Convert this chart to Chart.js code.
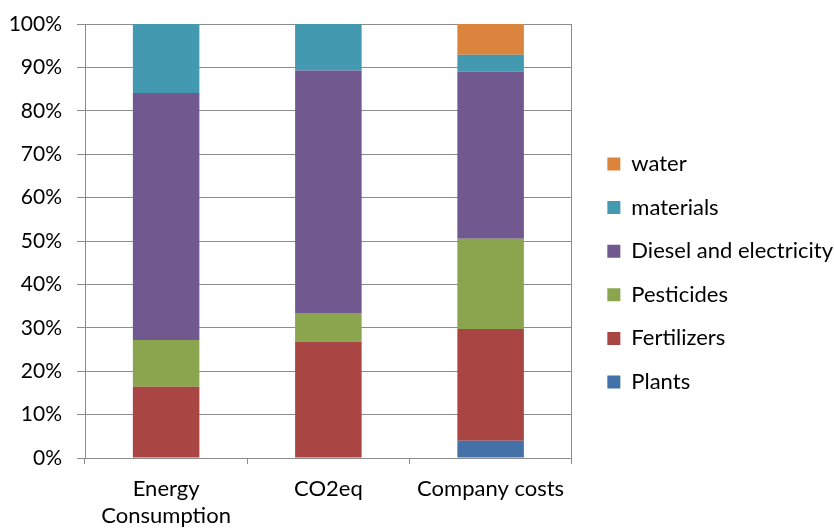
<!DOCTYPE html>
<html>
<head>
<meta charset="utf-8">
<script src="https://cdn.jsdelivr.net/npm/chart.js@4/dist/chart.umd.min.js"></script>
<style>
  html, body { margin: 0; padding: 0; background: #fff; }
  #wrap { width: 834px; height: 529px; }
</style>
</head>
<body>
<div id="wrap"><canvas id="share_chart" width="834" height="529"></canvas></div>
<script>
// categories on the x axis
let categories = [["Energy", "Consumption"], "CO2eq", "Company costs"]
// share of each item in percent, one value per category
let plants = [0, 0, 4.0]
let fertilizers = [16.4, 26.8, 25.7]
let pesticides = [10.8, 6.6, 20.8]
let diesel = [56.9, 55.9, 38.5]
let materials = [15.9, 10.7, 3.9]
let water = [0, 0, 7.1]
let yTicks = [0, 10, 20, 30, 40, 50, 60, 70, 80, 90, 100]

let gridColor = "#8c8c8c"
Chart.defaults.font.family = "Lato, 'Noto Sans', sans-serif"
Chart.defaults.font.size = 22
Chart.defaults.color = "#000"

new Chart("share_chart", {
    type: "bar",
    data: {
        labels: categories,
        datasets: [
            {label: "Plants", backgroundColor: "#4472a8", data: plants},
            {label: "Fertilizers", backgroundColor: "#a94643", data: fertilizers},
            {label: "Pesticides", backgroundColor: "#8aa54e", data: pesticides},
            {label: "Diesel and electricity", backgroundColor: "#71588f", data: diesel},
            {label: "materials", backgroundColor: "#4299b0", data: materials},
            {label: "water", backgroundColor: "#db843d", data: water}
        ]
    },
    options: {
        responsive: false,
        animation: false,
        // legend comes out a little too wide, pull everything right a bit
        layout: {padding: {top: 6, left: 0, right: -9, bottom: 0}},
        datasets: {bar: {barPercentage: 0.41, categoryPercentage: 1}},
        plugins: {
            tooltip: {enabled: false},
            legend: {
                position: "right",
                reverse: true,
                maxWidth: 300,
                title: {display: true, text: " ", font: {size: 9, lineHeight: 1}, padding: 1},
                labels: {boxWidth: 13, boxHeight: 13, padding: 21.6, color: "#000"}
            }
        },
        scales: {
            x: {
                stacked: true,
                afterFit: function(scale){ scale.height = 71 },
                grid: {drawOnChartArea: false, drawTicks: true, tickLength: 6, color: gridColor},
                border: {display: true, color: gridColor},
                ticks: {padding: 11, font: {lineHeight: 1.23}, maxRotation: 0}
            },
            y: {
                stacked: true,
                min: 0,
                max: 100,
                afterBuildTicks: function(scale){ scale.ticks = yTicks.map(v => ({value: v})) },
                afterFit: function(scale){
                    scale.width = 85
                    scale.paddingTop = 24
                },
                grid: {color: gridColor, tickLength: 8},
                border: {display: true, color: gridColor},
                ticks: {padding: 15, font: {size: 21}, callback: v => v + "%"}
            },
            yRight: {
                position: "right",
                display: true,
                min: 0,
                max: 100,
                afterFit: function(scale){ scale.width = 14 },
                grid: {drawOnChartArea: false, drawTicks: false},
                border: {display: true, color: gridColor},
                ticks: {display: false}
            }
        }
    }
});
</script>
</body>
</html>
